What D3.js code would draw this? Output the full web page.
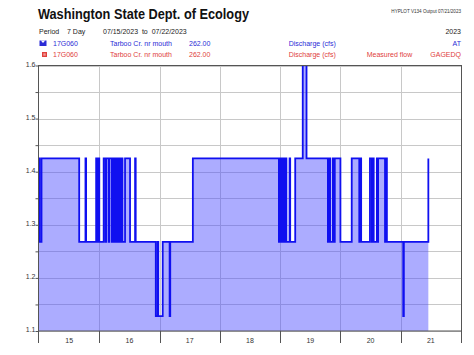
<!DOCTYPE html>
<html><head><meta charset="utf-8">
<script src="https://cdn.jsdelivr.net/npm/d3@7"></script>
<style>body{margin:0;background:#fff}svg{display:block;font-family:"Liberation Sans",Arial,sans-serif}</style>
</head><body>
<svg id="c" width="474" height="355"></svg>
<script>
// hours since 07/15/2023 00:00
const hours = [0,0.25,1.0,16.0,18.5,18.75,22.75,23.25,23.5,24.0,25.75,26.5,26.75,27.75,28.0,29.0,29.25,29.5,29.75,30.25,30.5,30.75,31.0,31.25,31.5,31.75,32.0,32.5,32.75,33.25,34.25,36.25,38.25,38.5,46.5,47.25,47.5,49.25,52.0,52.25,61.25,95.5,95.75,96.0,96.5,96.75,97.0,97.25,97.75,98.0,98.25,98.5,99.75,100.0,102.0,105.0,106.5,115.0,115.25,115.5,115.75,116.0,117.0,117.25,117.75,120.0,124.5,127.5,127.75,128.25,131.75,132.5,132.75,133.25,134.5,134.75,135.0,137.75,138.25,138.5,145.0,145.25,155.0];
const flows = [1.425,1.268,1.425,1.268,1.425,1.268,1.425,1.268,1.425,1.268,1.425,1.268,1.425,1.268,1.425,1.268,1.425,1.268,1.425,1.268,1.425,1.268,1.425,1.268,1.425,1.268,1.425,1.268,1.425,1.268,1.425,1.268,1.425,1.268,1.128,1.268,1.128,1.268,1.128,1.268,1.425,1.268,1.425,1.268,1.425,1.268,1.425,1.268,1.425,1.268,1.425,1.268,1.425,1.268,1.425,1.75,1.425,1.268,1.425,1.268,1.425,1.268,1.425,1.268,1.425,1.268,1.425,1.268,1.425,1.268,1.425,1.268,1.425,1.268,1.425,1.268,1.425,1.268,1.425,1.268,1.128,1.268,1.425];
const dayLabels = ["15","16","17","18","19","20","21"];
const yTickLabels = ["1.1","1.2","1.3","1.4","1.5","1.6"];
const minorTicks = [1.1,1.15,1.2,1.25,1.3,1.35,1.4,1.45,1.5,1.55,1.6];
const legendRows = [
  {id:"17G060", site:"Tarboo Cr. nr mouth", num:"262.00", param:"Discharge (cfs)", desc:"", code:"AT"},
  {id:"17G060", site:"Tarboo Cr. nr mouth", num:"262.00", param:"Discharge (cfs)", desc:"Measured flow", code:"GAGEDQ"}
];

const svg = d3.select("#c");
const L = 39, R = 461, T = 65.5, B = 331;
const x = d3.scaleLinear().domain([0,168]).range([L,R]);
const y = d3.scaleLinear().domain([1.1,1.6]).range([B,T]);
const data = hours.map((h,i)=>({h, v:flows[i]}));

// header
svg.append("text").attr("x",38).attr("y",19.3).attr("font-size",14).attr("font-weight","bold")
  .attr("fill","#111").attr("textLength",211).attr("lengthAdjust","spacingAndGlyphs")
  .text("Washington State Dept. of Ecology");
svg.append("text").attr("x",461).attr("y",13).attr("font-size",4.6).attr("text-anchor","end")
  .attr("fill","#333").text("HYPLOT V134  Output 07/21/2023");
const r2 = svg.append("g").attr("font-size",7).attr("fill","#222");
r2.append("text").attr("x",39).attr("y",34.3).text("Period");
r2.append("text").attr("x",67).attr("y",34.3).text("7 Day");
r2.append("text").attr("x",103).attr("y",34.3).attr("xml:space","preserve").text("07/15/2023  to  07/22/2023");
r2.append("text").attr("x",461).attr("y",34.3).attr("text-anchor","end").text("2023");

const colors = ["#2b2bd6","#e0403c"];
const ys = [46, 57.3];
legendRows.forEach((d,i)=>{
  const g = svg.append("g").attr("font-size",7).attr("fill",colors[i]);
  g.append("text").attr("x",53).attr("y",ys[i]).text(d.id);
  g.append("text").attr("x",110).attr("y",ys[i]).text(d.site);
  g.append("text").attr("x",189).attr("y",ys[i]).text(d.num);
  g.append("text").attr("x",288.7).attr("y",ys[i]).text(d.param);
  if (d.desc) g.append("text").attr("x",366.7).attr("y",ys[i]).text(d.desc);
  g.append("text").attr("x",461).attr("y",ys[i]).attr("text-anchor","end").text(d.code);
});
// icons
svg.append("rect").attr("x",39.5).attr("y",40.5).attr("width",7).attr("height",5.5).attr("fill","#2b2bd6");
svg.append("path").attr("d","M40.8,40.5 L43,43 L45.2,40.5 Z").attr("fill","#fff");
svg.append("rect").attr("x",42).attr("y",52).attr("width",5).attr("height",5).attr("fill","#e0403c");
svg.append("rect").attr("x",43.3).attr("y",53.3).attr("width",2.4).attr("height",2.4).attr("fill","#f39a96");

// grid
const grid = svg.append("g").attr("stroke","#c8c8c8").attr("stroke-width",1);
minorTicks.forEach(v=>grid.append("line").attr("x1",L).attr("x2",R).attr("y1",Math.round(y(v))+0.5).attr("y2",Math.round(y(v))+0.5));
d3.range(24,168,24).forEach(h=>grid.append("line").attr("x1",Math.round(x(h))+0.5).attr("x2",Math.round(x(h))+0.5).attr("y1",T).attr("y2",B));

// clip
svg.append("clipPath").attr("id","clip").append("rect").attr("x",L).attr("y",T).attr("width",R-L).attr("height",B-T);
const plot = svg.append("g").attr("clip-path","url(#clip)");
const area = d3.area().x(d=>x(d.h)).y0(y(1.1)).y1(d=>y(d.v)).curve(d3.curveStepAfter);
const line = d3.line().x(d=>x(d.h)).y(d=>y(d.v)).curve(d3.curveStepAfter);
plot.append("path").datum(data).attr("d",area).attr("fill","#4848ff").attr("fill-opacity",0.45);
plot.append("path").datum(data).attr("d",line).attr("fill","none").attr("stroke","#1010f0").attr("stroke-width",1.8);

// frame
const fr = svg.append("g").attr("stroke","#555").attr("stroke-width",1).attr("fill","none");
fr.append("rect").attr("x",L-0.5).attr("y",T).attr("width",R-L+1).attr("height",B-T);

// y axis
const ya = svg.append("g").attr("transform",`translate(${L-0.5},0)`)
  .call(d3.axisLeft(y).tickValues(minorTicks).tickSize(3).tickFormat(v=>{
    const i = yTickLabels.indexOf(v.toFixed(1)); return (Math.abs(v*10-Math.round(v*10))<1e-6 && i>=0)? yTickLabels[i] : "";}));
ya.select(".domain").remove();
ya.selectAll("line").attr("stroke","#555");
ya.selectAll("text").attr("font-size",7).attr("fill","#333").attr("font-family","Liberation Sans, Arial, sans-serif").attr("x",-3).attr("dy","0.1em");

// x axis
const xa = svg.append("g").attr("transform",`translate(0,${B})`);
d3.range(0,169,24).forEach(h=>xa.append("line").attr("x1",Math.round(x(h))-0.5+ (h===0?0:1)).attr("x2",Math.round(x(h))-0.5+(h===0?0:1)).attr("y1",0).attr("y2",12).attr("stroke","#555"));
dayLabels.forEach((t,i)=>xa.append("text").attr("x",x(i*24+12)).attr("y",12.3).attr("text-anchor","middle")
  .attr("font-size",7).attr("fill","#333").text(t));
</script>
</body></html>
